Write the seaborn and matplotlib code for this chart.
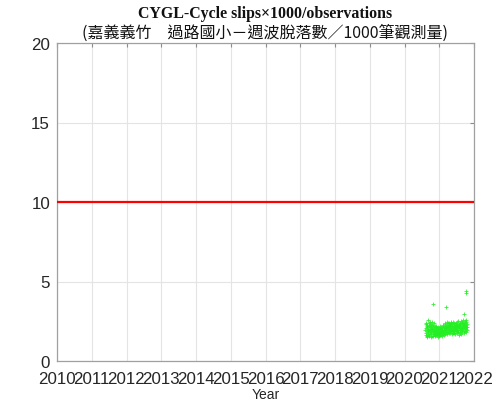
import matplotlib
matplotlib.use("Agg")
import matplotlib.pyplot as plt
import seaborn as sns
import pandas as pd
import numpy as np

# Cycle-slip ratios (slips x1000 / observations), one value every two days
start_date = "2020-08-08"
slip_ratio = [
    1.92, 2.31, 1.64, 2.05, 1.78, 2.42, 1.55, 2.18, 1.87, 2.26,
    1.49, 2.12, 1.96, 2.55, 1.71, 2.03, 1.83, 2.37, 1.62, 2.21,
    1.95, 1.58, 2.47, 1.88, 2.14, 1.73, 2.29, 1.99, 1.52, 2.08,
    2.33, 1.81, 1.67, 2.19, 1.93, 2.44, 1.60, 2.01, 1.76, 2.25,
    1.86, 2.11, 1.57, 1.98, 2.36, 1.69, 2.07, 1.84, 1.63, 2.17,
    1.90, 1.72, 2.02, 1.59, 2.23, 1.81, 1.66, 1.97, 2.13, 1.74,
    1.88, 1.61, 2.09, 1.79, 1.54, 2.00, 1.85, 2.16, 1.68, 1.93,
    1.77, 2.06, 1.58, 1.91, 1.70, 2.20, 1.83, 1.62, 1.99, 1.75,
    2.04, 1.87, 1.65, 2.12, 1.80, 1.94, 1.56, 2.08, 1.89, 1.73,
    1.96, 2.18, 1.69, 1.84, 2.27, 1.78, 2.03, 1.90, 1.64, 2.14,
    1.82, 2.31, 1.97, 2.10, 1.72, 2.39, 1.88, 2.05, 2.22, 1.76,
    2.15, 1.93, 2.44, 1.81, 2.08, 2.29, 1.67, 2.19, 1.99, 2.36,
    1.85, 2.12, 2.41, 1.95, 2.24, 1.74, 2.06, 2.33, 1.90, 2.17,
    2.02, 1.79, 2.26, 2.47, 1.87, 2.13, 1.96, 2.38, 1.70, 2.09,
    2.21, 1.92, 2.34, 1.83, 2.11, 2.45, 1.98, 1.75, 2.28, 2.04,
    1.89, 2.19, 2.40, 1.77, 2.07, 2.32, 1.94, 2.16, 1.68, 2.25,
    2.01, 2.37, 1.86, 2.14, 1.73, 2.43, 2.09, 1.91, 2.29, 1.80,
    2.18, 2.50, 1.97, 2.23, 1.84, 2.35, 2.06, 1.65, 2.27, 2.12,
    1.93, 2.41, 2.15, 1.78, 2.31, 2.03, 2.53, 1.88, 2.20, 1.71,
    2.10, 2.36, 1.95, 2.46, 2.08, 1.82, 2.24, 2.57, 1.99, 2.17,
    2.33, 1.86, 2.13, 2.42, 1.74, 2.28, 2.05, 2.49, 1.90, 2.22,
    2.38, 2.01, 2.60, 1.83, 2.26, 2.11, 2.44, 1.97, 2.32, 2.15,
]

# Isolated high days
spike_dates = ["2020-10-27", "2021-03-10", "2021-09-15", "2021-10-08", "2021-10-10"]
spike_ratio = [3.6, 3.4, 2.95, 4.25, 4.4]

threshold = 10
year_ticks = list(range(2010, 2023))
y_ticks = [0, 5, 10, 15, 20]

title_en = "CYGL-Cycle slips×1000/observations"
title_zh = "(嘉義義竹\u3000過路國小－週波脫落數／1000筆觀測量)"


def decimal_year(dates):
    d = pd.to_datetime(dates)
    days = np.where(d.is_leap_year, 366, 365)
    return d.year + (d.dayofyear - 1) / days


dates = pd.date_range(start_date, periods=len(slip_ratio), freq="2D")
df = pd.DataFrame({
    "year": np.concatenate([decimal_year(dates), decimal_year(spike_dates)]),
    "ratio": slip_ratio + spike_ratio,
})

sns.set_style("white")
plt.rcParams["font.family"] = ["Liberation Sans", "DejaVu Sans"]

fig = plt.figure(figsize=(4.96, 4.06), dpi=100)
ax = fig.add_axes([57 / 496, 44 / 406, 417 / 496, 318 / 406])

ax.grid(True, color="#e4e4e4", linewidth=0.8)
ax.set_axisbelow(True)

sns.scatterplot(data=df, x="year", y="ratio", marker="+", color="#22ee22",
                s=10, linewidth=0.6, alpha=0.9, ax=ax, legend=False, zorder=3)
ax.axhline(threshold, color="#ff0000", linewidth=1.6, zorder=4)

ax.set_xlim(2010, 2022)
ax.set_ylim(0, 20)
ax.set_xticks(year_ticks)
ax.set_yticks(y_ticks)
ax.tick_params(direction="in", length=3, width=0.8, color="#8c8c8c",
               labelsize=12.2, labelcolor="#262626", top=True, right=True)
ax.tick_params(axis="x", pad=7)
ax.tick_params(axis="y", pad=5)
for s in ax.spines.values():
    s.set_color("#a0a0a0")
    s.set_linewidth(0.9)

ax.set_xlabel("Year", fontsize=10, color="#262626", labelpad=1)
ax.set_ylabel("")

cx = (57 + 474) / 2 / 496
fig.text(cx, 1 - 14 / 406, title_en, ha="center", va="center",
         fontsize=11.4, fontweight="bold", family="Liberation Serif", color="#111111")
fig.text(cx, 1 - 33 / 406, title_zh, ha="center", va="center",
         fontsize=11.5, family=["Noto Sans CJK TC", "DejaVu Sans"], color="#111111")

fig.savefig("out.png", dpi=100)
